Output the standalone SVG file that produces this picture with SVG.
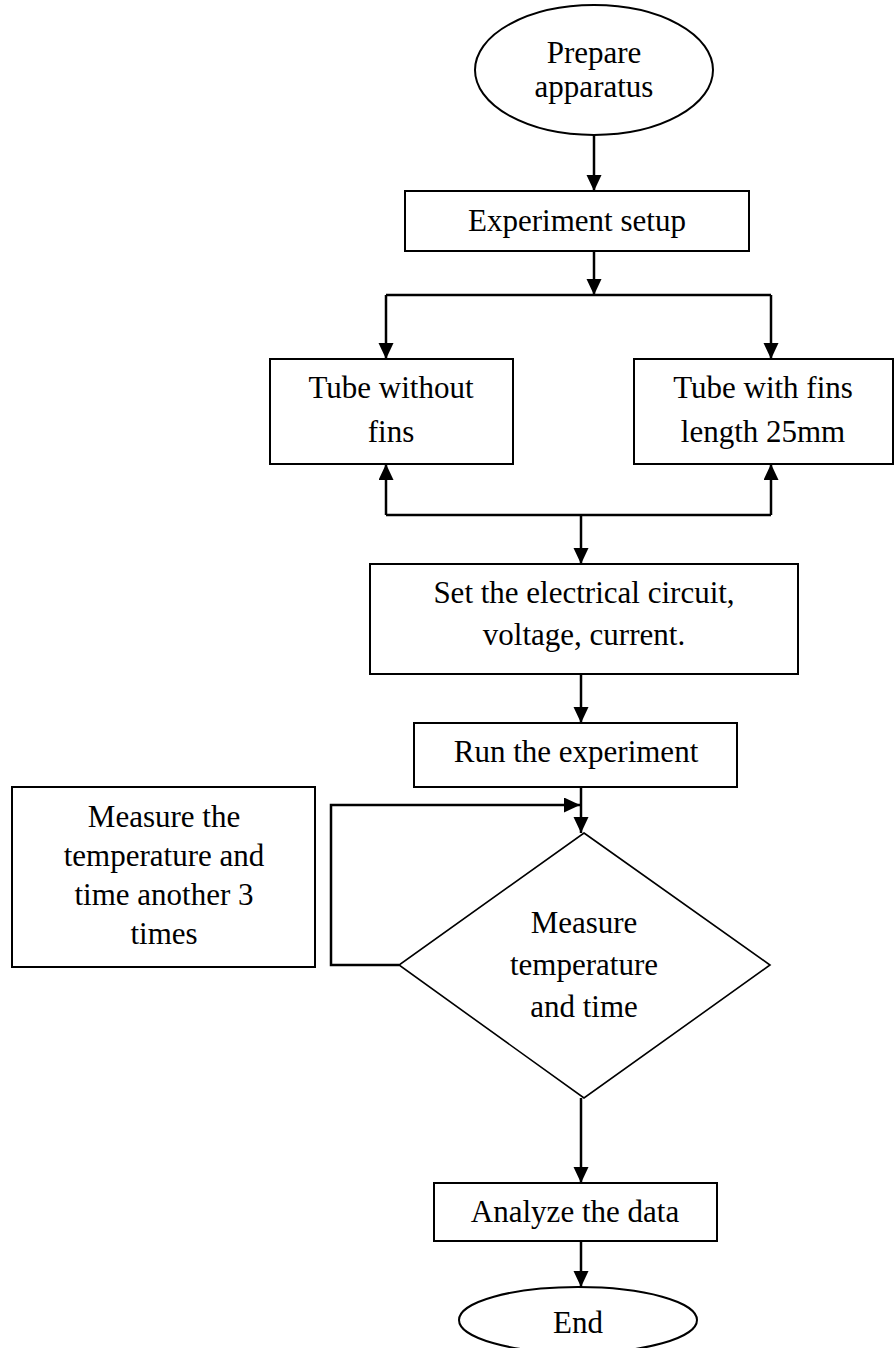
<svg xmlns="http://www.w3.org/2000/svg" width="894" height="1348" viewBox="0 0 894 1348">
  <style>
    .box { fill: #ffffff; stroke: #000000; stroke-width: 2; }
    .diamond { fill: #ffffff; stroke: #000000; stroke-width: 1.6; }
    .line { fill: none; stroke: #000000; stroke-width: 2.5; }
    .label { font-family: "Liberation Serif", "Times New Roman", serif; font-size: 31px; fill: #000000; text-anchor: middle; }
  </style>
  <defs>
    <marker id="arrow" markerUnits="userSpaceOnUse" markerWidth="16" markerHeight="16" refX="16" refY="7.5" orient="auto">
      <path d="M0,0 L16,7.5 L0,15 z" fill="#000000"/>
    </marker>
  </defs>
  <rect width="894" height="1348" fill="#ffffff"/>

  <!-- connectors -->
  <g id="connectors">
    <line class="line" x1="594" y1="135" x2="594" y2="191" marker-end="url(#arrow)"/>
    <line class="line" x1="594" y1="251" x2="594" y2="295" marker-end="url(#arrow)"/>
    <line class="line" x1="386" y1="295" x2="771" y2="295"/>
    <line class="line" x1="386" y1="295" x2="386" y2="359" marker-end="url(#arrow)"/>
    <line class="line" x1="771" y1="295" x2="771" y2="359" marker-end="url(#arrow)"/>
    <line class="line" x1="386" y1="515" x2="771" y2="515"/>
    <line class="line" x1="386" y1="515" x2="386" y2="464" marker-end="url(#arrow)"/>
    <line class="line" x1="771" y1="515" x2="771" y2="464" marker-end="url(#arrow)"/>
    <line class="line" x1="581" y1="515" x2="581" y2="564" marker-end="url(#arrow)"/>
    <line class="line" x1="581" y1="674" x2="581" y2="723" marker-end="url(#arrow)"/>
    <line class="line" x1="581" y1="787" x2="581" y2="833" marker-end="url(#arrow)"/>
    <path class="line" d="M399,965 H331 V805 H580" marker-end="url(#arrow)"/>
    <line class="line" x1="581" y1="1098" x2="581" y2="1183" marker-end="url(#arrow)"/>
    <line class="line" x1="581" y1="1241" x2="581" y2="1287" marker-end="url(#arrow)"/>
  </g>

  <g id="prepare">
    <ellipse class="box" cx="594" cy="70" rx="119" ry="65"/>
    <text class="label" x="594" y="63">Prepare</text>
    <text class="label" x="594" y="97">apparatus</text>
  </g>

  <g id="setup">
    <rect class="box" x="405" y="191" width="344" height="60"/>
    <text class="label" x="577" y="231">Experiment setup</text>
  </g>

  <g id="tube-plain">
    <rect class="box" x="270" y="359" width="243" height="105"/>
    <text class="label" x="391" y="398">Tube without</text>
    <text class="label" x="391" y="442">fins</text>
  </g>

  <g id="tube-fins">
    <rect class="box" x="634" y="359" width="259" height="105"/>
    <text class="label" x="763" y="398">Tube with fins</text>
    <text class="label" x="763" y="442">length 25mm</text>
  </g>

  <g id="circuit">
    <rect class="box" x="370" y="564" width="428" height="110"/>
    <text class="label" x="584" y="603">Set the electrical circuit,</text>
    <text class="label" x="584" y="645">voltage, current.</text>
  </g>

  <g id="run">
    <rect class="box" x="414" y="723" width="323" height="64"/>
    <text class="label" x="576" y="762">Run the experiment</text>
  </g>

  <g id="repeat">
    <rect class="box" x="12" y="787" width="303" height="180"/>
    <text class="label" x="164" y="827">Measure the</text>
    <text class="label" x="164" y="866">temperature and</text>
    <text class="label" x="164" y="905">time another 3</text>
    <text class="label" x="164" y="944">times</text>
  </g>

  <g id="measure">
    <polygon class="diamond" points="584,833 770,965 584,1098 399,965"/>
    <text class="label" x="584" y="933">Measure</text>
    <text class="label" x="584" y="975">temperature</text>
    <text class="label" x="584" y="1017">and time</text>
  </g>

  <g id="analyze">
    <rect class="box" x="434" y="1183" width="283" height="58"/>
    <text class="label" x="575" y="1222">Analyze the data</text>
  </g>

  <g id="end">
    <ellipse class="box" cx="578" cy="1320" rx="119" ry="33"/>
    <text class="label" x="578" y="1333">End</text>
  </g>
</svg>
